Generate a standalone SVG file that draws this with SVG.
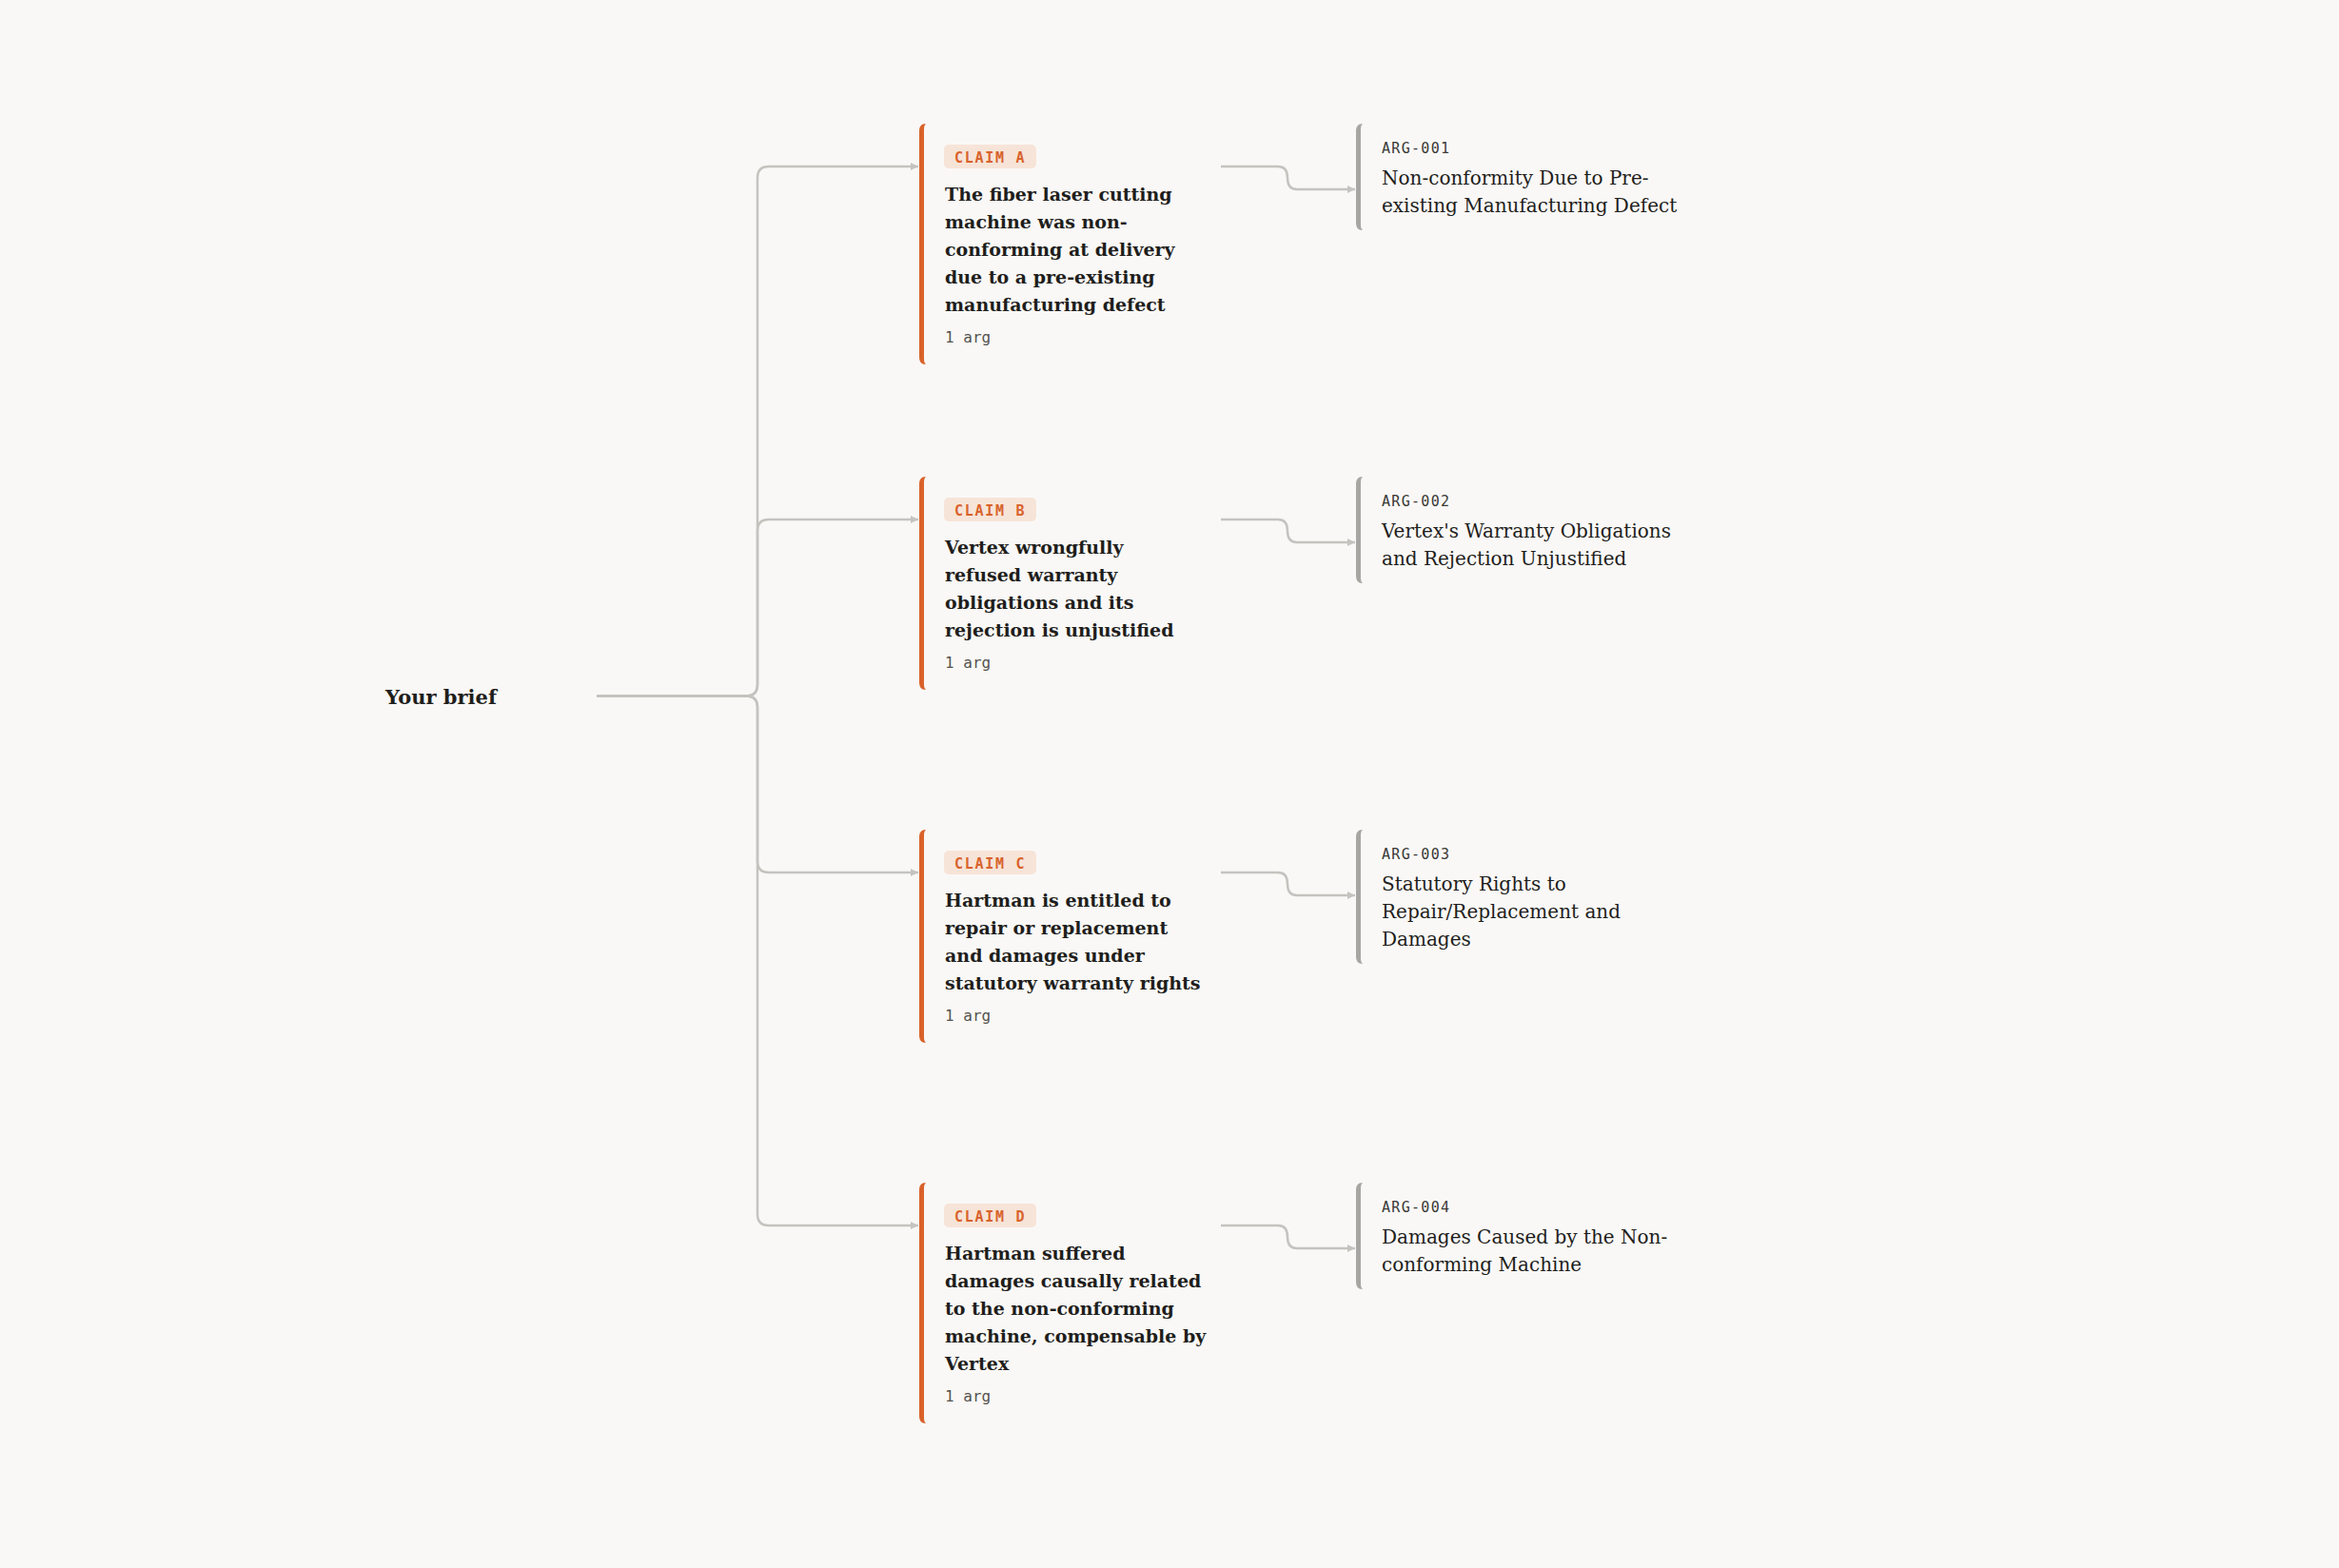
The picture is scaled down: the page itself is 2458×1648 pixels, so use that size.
<svg xmlns="http://www.w3.org/2000/svg" width="2458" height="1648" viewBox="0 0 2458 1648">
<defs>
<style>
.title{font-family:"DejaVu Serif","Liberation Serif",serif;font-weight:bold;font-size:19px;fill:#1f1e1c}
.argt{font-family:"DejaVu Serif","Liberation Serif",serif;font-size:20px;fill:#1f1e1c}
.root{font-family:"DejaVu Serif","Liberation Serif",serif;font-weight:bold;font-size:21px;fill:#1f1e1c}
.badge{fill:#f7e4d8}
.badget{font-family:"DejaVu Sans Mono","Liberation Mono",monospace;font-weight:bold;font-size:15px;letter-spacing:1.7px;fill:#d8622c}
.argid{font-family:"DejaVu Sans Mono","Liberation Mono",monospace;font-size:15px;letter-spacing:1.3px;fill:#3a3936}
.count{font-family:"DejaVu Sans Mono","Liberation Mono",monospace;font-size:16px;fill:#55534f}
.cbar{fill:#d9622b}
.abar{fill:#a8a6a2}
.conn{fill:none;stroke:#c5c3bf;stroke-width:2.5;marker-end:url(#arr)}
</style>
<marker id="arr" viewBox="0 0 8 8" markerWidth="8" markerHeight="8" refX="8" refY="4" orient="auto" markerUnits="userSpaceOnUse">
<path d="M0,0 L8,4 L0,8 z" fill="#c5c3bf"/>
</marker>
</defs>
<rect width="2458" height="1648" fill="#f9f8f6"/>

<g id="connectors">
<path class="conn" d="M627,731.5 H784 Q796,731.5 796,719.5 V187 Q796,175 808,175 H965"/>
<path class="conn" d="M627,731.5 H784 Q796,731.5 796,719.5 V558 Q796,546 808,546 H965"/>
<path class="conn" d="M627,731.5 H784 Q796,731.5 796,743.5 V905 Q796,917 808,917 H965"/>
<path class="conn" d="M627,731.5 H784 Q796,731.5 796,743.5 V1276 Q796,1288 808,1288 H965"/>
<path class="conn" d="M1283,175 H1343 Q1353,175 1353,187 Q1353,199 1363,199 H1424"/>
<path class="conn" d="M1283,546 H1343 Q1353,546 1353,558 Q1353,570 1363,570 H1424"/>
<path class="conn" d="M1283,917 H1343 Q1353,917 1353,929 Q1353,941 1363,941 H1424"/>
<path class="conn" d="M1283,1288 H1343 Q1353,1288 1353,1300 Q1353,1312 1363,1312 H1424"/>
</g>

<g id="root">
<text class="root" x="405" y="740">Your brief</text>
</g>

<g id="claim-a">
<path class="cbar" d="M973,130 C968,130 966,133 966,138 V375 C966,380 968,383 973,383 C971,381 971,379 971,376 V137 C971,134 971,132 973,130 Z"/>
<rect class="badge" x="992" y="152" width="97" height="25" rx="5"/>
<text class="badget" x="1003" y="170.5">CLAIM A</text>
<text class="title" x="993"><tspan x="993" y="211">The fiber laser cutting</tspan><tspan x="993" y="240">machine was non-</tspan><tspan x="993" y="269">conforming at delivery</tspan><tspan x="993" y="298">due to a pre-existing</tspan><tspan x="993" y="327">manufacturing defect</tspan></text>
<text class="count" x="993" y="360">1 arg</text>
</g>

<g id="claim-b">
<path class="cbar" d="M973,501 C968,501 966,504 966,509 V717 C966,722 968,725 973,725 C971,723 971,721 971,718 V508 C971,505 971,503 973,501 Z"/>
<rect class="badge" x="992" y="523" width="97" height="25" rx="5"/>
<text class="badget" x="1003" y="541.5">CLAIM B</text>
<text class="title" x="993"><tspan x="993" y="582">Vertex wrongfully</tspan><tspan x="993" y="611">refused warranty</tspan><tspan x="993" y="640">obligations and its</tspan><tspan x="993" y="669">rejection is unjustified</tspan></text>
<text class="count" x="993" y="702">1 arg</text>
</g>

<g id="claim-c">
<path class="cbar" d="M973,872 C968,872 966,875 966,880 V1088 C966,1093 968,1096 973,1096 C971,1094 971,1092 971,1089 V879 C971,876 971,874 973,872 Z"/>
<rect class="badge" x="992" y="894" width="97" height="25" rx="5"/>
<text class="badget" x="1003" y="912.5">CLAIM C</text>
<text class="title" x="993"><tspan x="993" y="953">Hartman is entitled to</tspan><tspan x="993" y="982">repair or replacement</tspan><tspan x="993" y="1011">and damages under</tspan><tspan x="993" y="1040">statutory warranty rights</tspan></text>
<text class="count" x="993" y="1073">1 arg</text>
</g>

<g id="claim-d">
<path class="cbar" d="M973,1243 C968,1243 966,1246 966,1251 V1488 C966,1493 968,1496 973,1496 C971,1494 971,1492 971,1489 V1250 C971,1247 971,1245 973,1243 Z"/>
<rect class="badge" x="992" y="1265" width="97" height="25" rx="5"/>
<text class="badget" x="1003" y="1283.5">CLAIM D</text>
<text class="title" x="993"><tspan x="993" y="1324">Hartman suffered</tspan><tspan x="993" y="1353">damages causally related</tspan><tspan x="993" y="1382">to the non-conforming</tspan><tspan x="993" y="1411">machine, compensable by</tspan><tspan x="993" y="1440">Vertex</tspan></text>
<text class="count" x="993" y="1473">1 arg</text>
</g>

<g id="arg-001">
<path class="abar" d="M1432,130 C1427,130 1425,133 1425,138 V234 C1425,239 1427,242 1432,242 C1430,240 1430,238 1430,235 V137 C1430,134 1430,132 1432,130 Z"/>
<text class="argid" x="1452" y="161">ARG-001</text>
<text class="argt" x="1452"><tspan x="1452" y="194">Non-conformity Due to Pre-</tspan><tspan x="1452" y="223">existing Manufacturing Defect</tspan></text>
</g>

<g id="arg-002">
<path class="abar" d="M1432,501 C1427,501 1425,504 1425,509 V605 C1425,610 1427,613 1432,613 C1430,611 1430,609 1430,606 V508 C1430,505 1430,503 1432,501 Z"/>
<text class="argid" x="1452" y="532">ARG-002</text>
<text class="argt" x="1452"><tspan x="1452" y="565">Vertex's Warranty Obligations</tspan><tspan x="1452" y="594">and Rejection Unjustified</tspan></text>
</g>

<g id="arg-003">
<path class="abar" d="M1432,872 C1427,872 1425,875 1425,880 V1005 C1425,1010 1427,1013 1432,1013 C1430,1011 1430,1009 1430,1006 V879 C1430,876 1430,874 1432,872 Z"/>
<text class="argid" x="1452" y="903">ARG-003</text>
<text class="argt" x="1452"><tspan x="1452" y="936">Statutory Rights to</tspan><tspan x="1452" y="965">Repair/Replacement and</tspan><tspan x="1452" y="994">Damages</tspan></text>
</g>

<g id="arg-004">
<path class="abar" d="M1432,1243 C1427,1243 1425,1246 1425,1251 V1347 C1425,1352 1427,1355 1432,1355 C1430,1353 1430,1351 1430,1348 V1250 C1430,1247 1430,1245 1432,1243 Z"/>
<text class="argid" x="1452" y="1274">ARG-004</text>
<text class="argt" x="1452"><tspan x="1452" y="1307">Damages Caused by the Non-</tspan><tspan x="1452" y="1336">conforming Machine</tspan></text>
</g>
</svg>
